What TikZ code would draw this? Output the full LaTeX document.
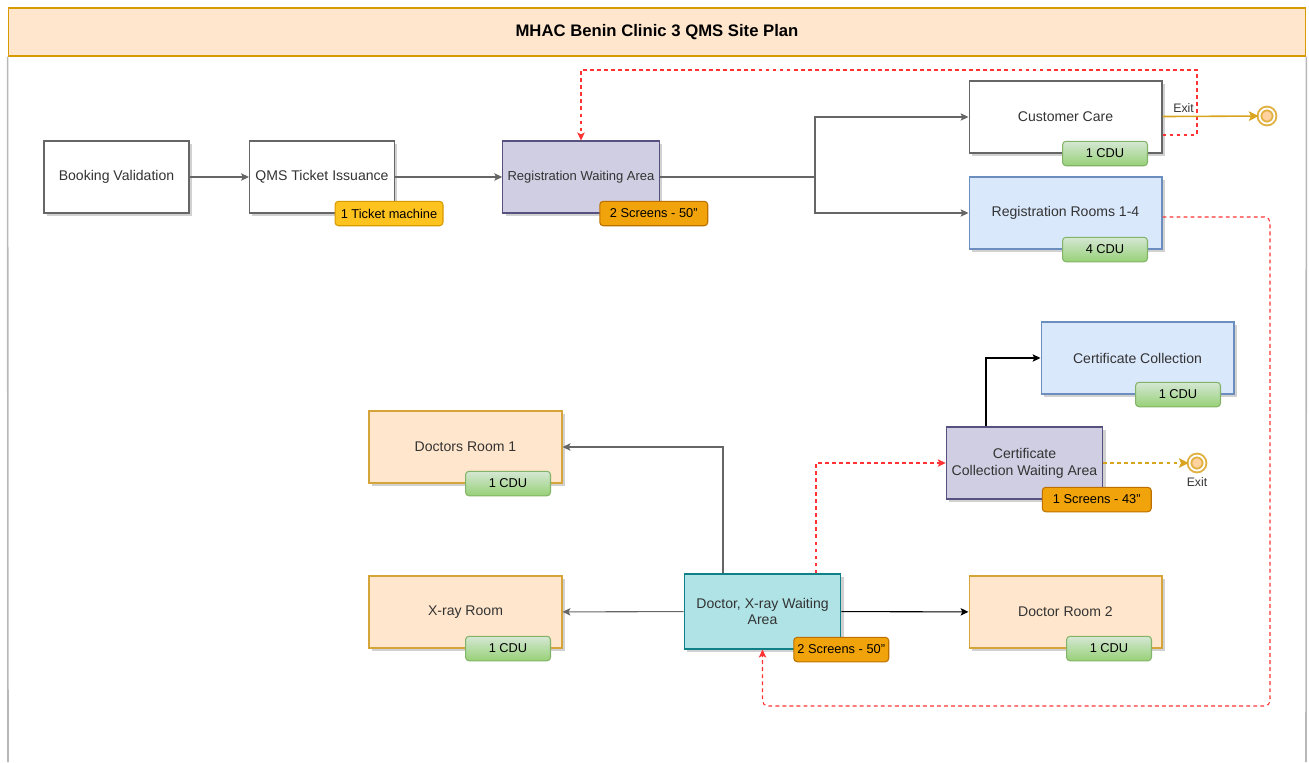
\documentclass[tikz,border=0pt]{standalone}
\usepackage{fontspec}
\setmainfont{Liberation Sans}
\usetikzlibrary{arrows.meta}

\definecolor{peach}{HTML}{FFE6CC}
\definecolor{peachline}{HTML}{D79B00}
\definecolor{roomline}{HTML}{D6A53A}
\definecolor{lilac}{HTML}{D0CEE2}
\definecolor{lilacline}{HTML}{56517E}
\definecolor{skyblue}{HTML}{DAE8FC}
\definecolor{skyline}{HTML}{6C8EBF}
\definecolor{aqua}{HTML}{B0E3E6}
\definecolor{aqualine}{HTML}{0E8088}
\definecolor{screenfill}{HTML}{F0A30A}
\definecolor{screenline}{HTML}{BD7000}
\definecolor{ticketfill}{HTML}{FFC320}
\definecolor{cdutop}{HTML}{D5E8D4}
\definecolor{cdubottom}{HTML}{97D077}
\definecolor{cduline}{HTML}{82B366}
\definecolor{exitline}{HTML}{E0B040}
\definecolor{exitfill}{HTML}{FFD2A0}
\definecolor{exitarrow}{HTML}{D9A520}
\definecolor{flowred}{HTML}{FF3333}
\definecolor{flowgray}{HTML}{666666}
\definecolor{textgray}{HTML}{333333}
\definecolor{framegray}{HTML}{B8B8B8}

\begin{document}
\begin{tikzpicture}[x=0.02cm, y=-0.02cm, >={Stealth[length=4.5pt, width=4.2pt, inset=1pt]},
	every node/.style={font=\fontsize{8}{9.6}\selectfont, text=textgray, align=center, inner sep=1pt},
	box/.style={draw=flowgray, line width=0.6pt, minimum height=1.44cm,
		preaction={fill=black, opacity=0.18, transform canvas={xshift=1.6pt, yshift=-1.6pt}}},
	whitebox/.style={box, fill=white, minimum width=2.9cm},
	room/.style={box, fill=peach, draw=roomline, minimum width=3.86cm},
	desk/.style={box, fill=skyblue, draw=skyline, minimum width=3.86cm},
	waiting/.style={box, fill=lilac, draw=lilacline, minimum width=3.13cm},
	badge/.style={rounded corners=2pt, line width=0.6pt, minimum height=0.49cm, text=black,
		font=\fontsize{7.3}{8.8}\selectfont},
	cdu/.style={badge, draw=cduline, top color=cdutop, bottom color=cdubottom, minimum width=1.7cm},
	screens/.style={badge, draw=screenline, fill=screenfill, minimum width=2.16cm},
	exitring/.style={circle, draw=exitline, line width=1.1pt, fill=exitfill, minimum size=0.3cm,
		inner sep=0pt, double=white, double distance=1pt},
	exitlabel/.style={font=\fontsize{7}{8.4}\selectfont},
	flow/.style={->, draw=flowgray, line width=0.6pt},
	recall/.style={->, draw=flowred, line width=0.6pt, dash pattern=on 2.2pt off 1.8pt},
	leave/.style={->, draw=exitarrow, line width=0.9pt, >={Stealth[length=5.5pt, width=5.5pt, inset=1.2pt]}}]
	\useasboundingbox (0,0) rectangle (1309,762);

	\node (Title) [draw=peachline, fill=peach, line width=0.6pt, minimum width=25.96cm, minimum height=0.96cm,
		font=\bfseries\fontsize{9.5}{11}\selectfont, text=black] at (657,32) {MHAC Benin Clinic 3 QMS Site Plan};
	\draw[framegray, line width=0.9pt] (Title.south west) -- (8,762);
	\draw[framegray, line width=0.9pt] (Title.south east) -- (1306,762);

	\node (BookingValidation) [whitebox] at (116.5,177) {Booking Validation};
	\node (QMSTicketIssuance) [whitebox] at (322,177) {QMS Ticket Issuance};
	\node (RegistrationWaitingArea) [waiting, font=\fontsize{7.4}{8.9}\selectfont] at (581,177) {Registration Waiting Area};
	\node (CustomerCare) [whitebox, minimum width=3.86cm] at (1065.5,117) {Customer Care};
	\node (RegistrationRooms) [desk] at (1065.5,213) {Registration Rooms 1-4};
	\node (CertificateCollection) [desk] at (1137.5,358) {Certificate Collection};
	\node (CertificateWaitingArea) [waiting] at (1024.5,463) {Certificate\\Collection Waiting Area};
	\node (DoctorsRoomOne) [room] at (465.5,447) {Doctors Room 1};
	\node (XrayRoom) [room] at (465.5,612) {X-ray Room};
	\node (DoctorXrayWaitingArea) [box, fill=aqua, draw=aqualine, minimum width=3.13cm, minimum height=1.5cm] at (762.5,611.5) {Doctor, X-ray Waiting\\Area};
	\node (DoctorRoomTwo) [room] at (1065.5,612) {Doctor Room 2};

	\node (TicketMachine) [screens, fill=ticketfill, draw=peachline] at ([xshift=-0.12cm]QMSTicketIssuance.south east) {1 Ticket machine};
	\node (RegistrationScreens) [screens] at ([xshift=-0.12cm]RegistrationWaitingArea.south east) {2 Screens - 50''};
	\node (CertificateScreens) [screens, minimum width=2.18cm] at ([xshift=-0.13cm]CertificateWaitingArea.south east) {1 Screens - 43''};
	\node (DoctorXrayScreens) [screens, minimum width=1.9cm] at (DoctorXrayWaitingArea.south east) {2 Screens - 50''};
	\node (CustomerCareCDU) [cdu] at ([xshift=-1.15cm]CustomerCare.south east) {1 CDU};
	\node (RegistrationRoomsCDU) [cdu] at ([xshift=-1.15cm]RegistrationRooms.south east) {4 CDU};
	\node (CertificateCollectionCDU) [cdu] at ([xshift=-1.13cm]CertificateCollection.south east) {1 CDU};
	\node (DoctorsRoomOneCDU) [cdu] at ([xshift=-1.09cm]DoctorsRoomOne.south east) {1 CDU};
	\node (XrayRoomCDU) [cdu] at ([xshift=-1.09cm]XrayRoom.south east) {1 CDU};
	\node (DoctorRoomTwoCDU) [cdu] at ([xshift=-1.07cm]DoctorRoomTwo.south east) {1 CDU};

	\node (CustomerCareExit) [exitring] at (1267,116) {};
	\node (CertificateExit) [exitring, label={[exitlabel, label distance=2.5pt]below:Exit}] at (1197,463) {};

	\coordinate (Split) at (815,177);
	\draw[flow] (BookingValidation) -- (QMSTicketIssuance);
	\draw[flow] (QMSTicketIssuance) -- (RegistrationWaitingArea);
	\draw[flow] (RegistrationWaitingArea) -- (Split) |- (CustomerCare);
	\draw[flow] (Split) |- (RegistrationRooms);
	\draw[recall] ([yshift=-0.36cm]CustomerCare.east) -| (1197,70) -| (RegistrationWaitingArea.north);
	\draw[recall, rounded corners=3pt] ([yshift=-0.08cm]RegistrationRooms.east) -| (1270,706) -| (DoctorXrayWaitingArea.south);
	\draw[recall] ([xshift=1.07cm]DoctorXrayWaitingArea.north) |- (CertificateWaitingArea.west);
	\draw[flow] ([xshift=-0.79cm]DoctorXrayWaitingArea.north) |- (DoctorsRoomOne.east);
	\draw[flow] (DoctorXrayWaitingArea) -- (XrayRoom);
	\draw[flow, draw=black] (DoctorXrayWaitingArea) -- (DoctorRoomTwo);
	\draw[flow, draw=black] ([xshift=-0.77cm]CertificateWaitingArea.north) |- (CertificateCollection.west);
	\draw[leave] (CustomerCare) -- node[exitlabel, pos=0.22, above, inner sep=2pt] {Exit} (CustomerCareExit);
	\draw[leave, dash pattern=on 2.2pt off 1.8pt, line width=0.6pt] (CertificateWaitingArea) -- (CertificateExit);
\end{tikzpicture}
\end{document}
